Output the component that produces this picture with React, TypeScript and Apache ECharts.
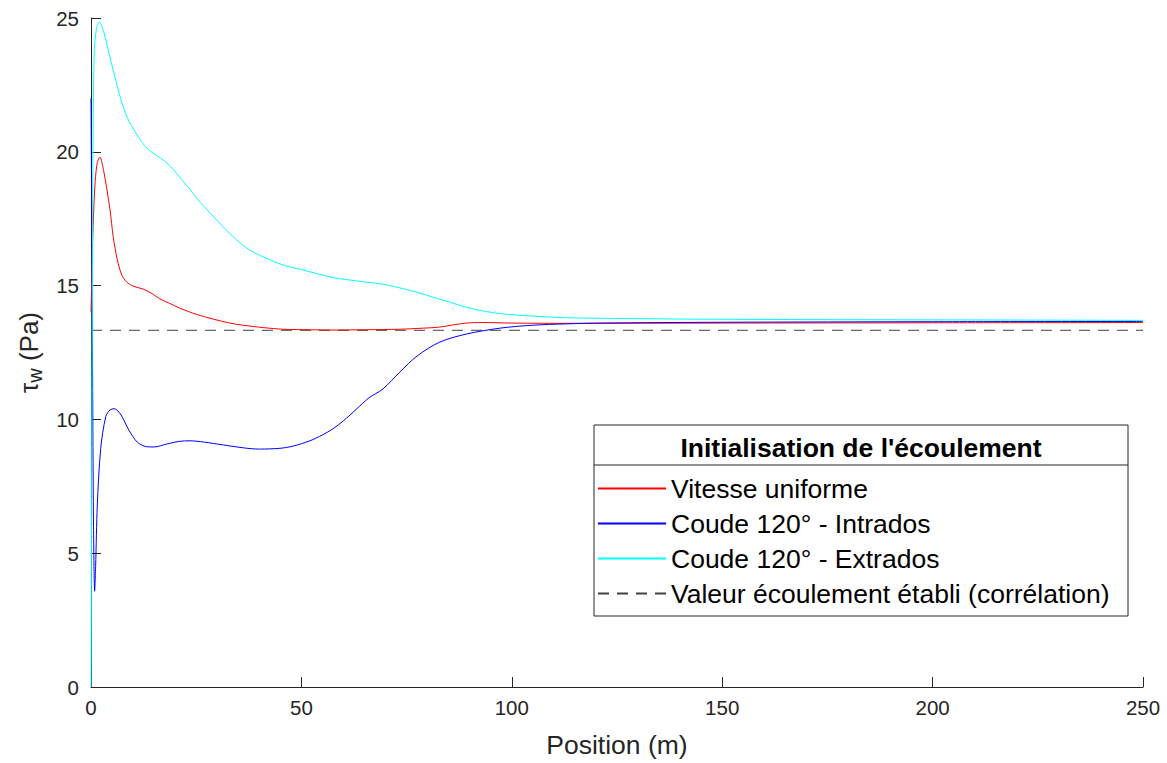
import React, { useEffect, useRef } from "react";
import * as echarts from "echarts";

// Series names
const seriesNames = [
  "Vitesse uniforme",
  "Coude 120° - Intrados",
  "Coude 120° - Extrados",
  "Valeur écoulement établi (corrélation)",
];
const legendTitle = "Initialisation de l'écoulement";

// Vitesse uniforme (red)
const redX = [0, 0.5, 1.0, 1.5, 2.1, 3.0, 4.5, 5.3, 6.2, 7.3, 8.5, 10, 12.4, 14.5, 16.4, 18.5, 21.2, 25, 29, 33, 36.1, 41, 45.6, 52, 57.5, 65, 73.4, 79, 82.9, 86, 89.2, 93, 100, 110, 150, 200, 250];
const redY = [14, 17.2, 18.9, 19.6, 19.8, 19.3, 17.85, 16.8, 16.0, 15.4, 15.13, 14.98, 14.87, 14.7, 14.5, 14.35, 14.15, 13.93, 13.75, 13.6, 13.52, 13.43, 13.37, 13.35, 13.34, 13.35, 13.37, 13.41, 13.45, 13.53, 13.6, 13.62, 13.6, 13.59, 13.6, 13.61, 13.62];

// Coude 120° - Intrados (blue)
const blueX = [0, 0.3, 0.6, 0.87, 1.1, 1.5, 2.3, 3.5, 4.5, 5.5, 7, 9, 11, 13.2, 15, 18, 21, 23.5, 26, 30, 36.1, 40, 44.9, 48, 52, 55, 57.5, 60, 63.2, 66, 69.4, 73.4, 77.5, 82.9, 89.2, 97.2, 105, 113, 121, 150, 200, 250];
const blueY = [22, 14, 6, 3.58, 4.5, 6.8, 8.9, 10.1, 10.35, 10.4, 10.2, 9.6, 9.15, 8.98, 8.97, 9.08, 9.18, 9.2, 9.17, 9.08, 8.94, 8.89, 8.92, 9.0, 9.2, 9.42, 9.65, 9.95, 10.4, 10.8, 11.14, 11.77, 12.37, 12.89, 13.19, 13.41, 13.52, 13.57, 13.6, 13.63, 13.65, 13.66];

// Coude 120° - Extrados (cyan)
const cyanX = [0, 0.25, 0.5, 0.8, 1.3, 2.0, 3.0, 4.7, 6, 7.5, 9, 10.5, 12, 13.5, 15.5, 17.5, 19.5, 21.5, 23.5, 26, 29, 32, 35.4, 38, 42, 46, 50, 57.5, 63, 69.4, 73, 77.5, 81, 85.3, 89, 93.2, 98, 105, 113, 121, 140, 170, 200, 250];
const cyanY = [0, 12, 21, 23.8, 24.6, 24.85, 24.5, 23.4, 22.6, 21.75, 21.15, 20.75, 20.38, 20.1, 19.87, 19.65, 19.35, 18.97, 18.6, 18.1, 17.6, 17.1, 16.6, 16.3, 16.0, 15.75, 15.6, 15.3, 15.18, 15.05, 14.93, 14.75, 14.58, 14.38, 14.2, 14.05, 13.94, 13.86, 13.8, 13.78, 13.75, 13.73, 13.72, 13.7];

// Correlation (dashed)
const corrX = [0, 250];
const corrY = [13.33, 13.33];

const xAxisRange = { min: 0, max: 250, interval: 50 };
const yAxisRange = { min: 0, max: 25, interval: 5 };

const zip = (xs: number[], ys: number[]) => xs.map((x, i) => [x, ys[i]]);

const FONT = "'Liberation Sans', Arial, Helvetica, sans-serif";
const AX = "#262626";

export default function App() {
  const ref = useRef<HTMLDivElement>(null);
  useEffect(() => {
    document.body.style.margin = "0";
    const chart = echarts.init(ref.current!, null, { renderer: "svg" });
    const lineBase = {
      type: "line" as const,
      symbol: "none",
      smooth: 0.3,
      animation: false,
    };
    chart.setOption({
      animation: false,
      backgroundColor: "#ffffff",
      textStyle: { fontFamily: FONT },
      grid: { left: 91, right: 24, top: 18, bottom: 74 },
      xAxis: {
        type: "value",
        ...xAxisRange,
        name: "Position (m)",
        nameLocation: "middle",
        nameGap: 44,
        nameTextStyle: { fontSize: 26.5, color: AX, fontFamily: FONT },
        axisLine: { show: true, onZero: false, lineStyle: { color: AX, width: 1 } },
        axisTick: { show: true, inside: true, length: 10, lineStyle: { color: AX } },
        axisLabel: { fontSize: 20.5, color: AX, margin: 10, fontFamily: FONT },
        splitLine: { show: false },
      },
      yAxis: {
        type: "value",
        ...yAxisRange,
        name: "{t|τ}{s|w}{p| (Pa)}",
        nameLocation: "middle",
        nameGap: 46,
        nameRotate: 90,
        nameTextStyle: {
          color: AX,
          fontFamily: FONT,
          rich: {
            t: { fontSize: 26, color: AX, fontFamily: FONT },
            s: { fontSize: 20, color: AX, fontFamily: FONT, padding: [12, 0, 0, 0] },
            p: { fontSize: 26, color: AX, fontFamily: FONT },
          },
        },
        axisLine: { show: true, onZero: false, lineStyle: { color: AX, width: 1 } },
        axisTick: { show: true, inside: true, length: 10, lineStyle: { color: AX } },
        axisLabel: { fontSize: 20.5, color: AX, margin: 12, fontFamily: FONT },
        splitLine: { show: false },
      },
      legend: {
        left: 597,
        top: 475,
        orient: "vertical",
        itemWidth: 68,
        itemHeight: 12,
        itemGap: 8,
        padding: 0,
        data: seriesNames,
        itemStyle: { opacity: 0, borderWidth: 0 },
        textStyle: { fontSize: 26.5, color: "#000", fontFamily: FONT, lineHeight: 27 },
        selectedMode: false,
      },
      graphic: [
        {
          type: "rect",
          shape: { x: 594, y: 425, width: 534, height: 191 },
          style: { fill: "#fff", stroke: AX, lineWidth: 1 },
          z: 0,
          silent: true,
        },
        {
          type: "line",
          shape: { x1: 594, y1: 465, x2: 1128, y2: 465 },
          style: { stroke: AX, lineWidth: 1 },
          silent: true,
        },
        {
          type: "text",
          x: 861,
          y: 448,
          style: {
            text: legendTitle,
            fontSize: 26.5,
            fontWeight: "bold",
            fill: "#000",
            fontFamily: FONT,
            align: "center",
            verticalAlign: "middle",
          },
          silent: true,
        },
      ],
      series: [
        { ...lineBase, name: seriesNames[0], data: zip(redX, redY), lineStyle: { color: "#ff0000", width: 1 }, itemStyle: { color: "#ff0000" }, z: 2 },
        { ...lineBase, name: seriesNames[1], data: zip(blueX, blueY), lineStyle: { color: "#0000ff", width: 1 }, itemStyle: { color: "#0000ff" }, z: 3 },
        { ...lineBase, name: seriesNames[2], data: zip(cyanX, cyanY), lineStyle: { color: "#00ffff", width: 1 }, itemStyle: { color: "#00ffff" }, z: 4 },
        {
          type: "line",
          name: seriesNames[3],
          symbol: "none",
          data: zip(corrX, corrY),
          lineStyle: { color: "#404040", width: 1, type: [11, 8] },
          itemStyle: { color: "#404040" },
          z: 1,
        },
      ],
    });
    return () => chart.dispose();
  }, []);
  return <div ref={ref} style={{ width: 1167, height: 763 }} />;
}
